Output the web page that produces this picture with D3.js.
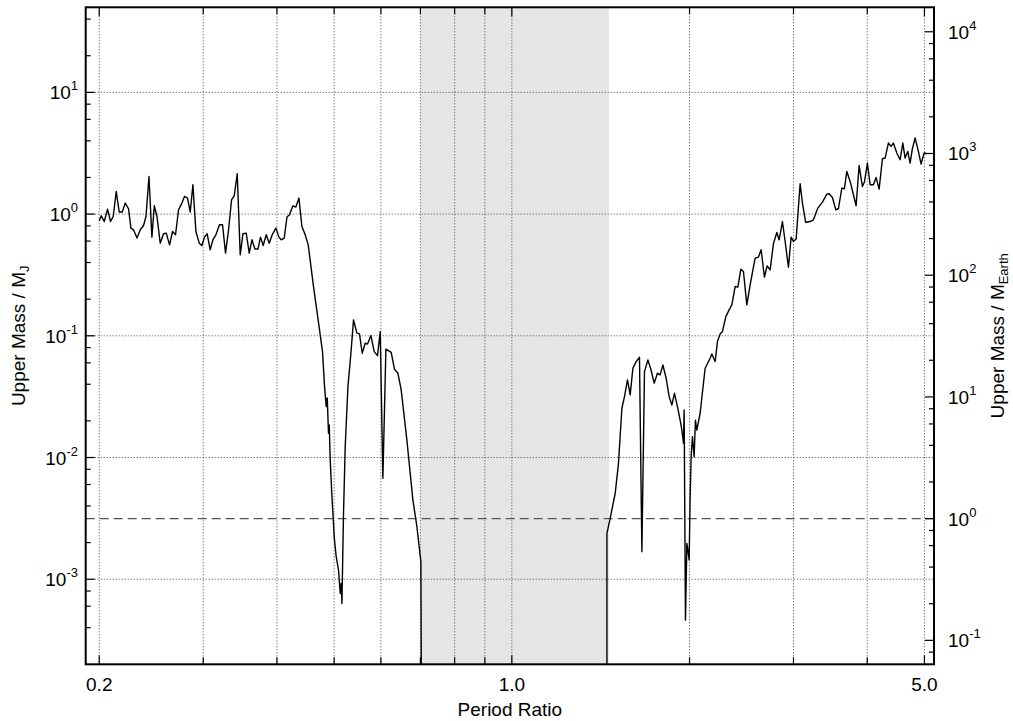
<!DOCTYPE html>
<html><head><meta charset="utf-8">
<script src="https://cdn.jsdelivr.net/npm/d3@7"></script>
<style>body{margin:0;background:#fff;} svg{display:block;font-family:"Liberation Sans",Arial,Helvetica,sans-serif;}</style>
</head><body>
<svg id="c" width="1013" height="721"></svg>
<script>
// ---- data (period ratio, upper mass in Jupiter masses) ----
const ratioInner = [0.200,0.2016,0.2039,0.2066,0.2090,0.2112,0.2137,0.2162,0.2188,0.2213,0.2242,0.2263,0.2286,0.2317,0.2347,0.2377,0.2400,0.2428,0.2456,0.2479,0.2505,0.2537,0.2570,0.2597,0.2631,0.2662,0.2693,0.2725,0.2761,0.2789,0.2822,0.2852,0.2882,0.2916,0.2954,0.2985,0.3015,0.3047,0.3083,0.3116,0.3152,0.3197,0.3235,0.3273,0.3312,0.3351,0.3386,0.3426,0.3466,0.3503,0.3548,0.3590,0.3628,0.3671,0.3714,0.3752,0.3791,0.3836,0.3881,0.3927,0.3984,0.4031,0.4067,0.4115,0.4159,0.4201,0.4257,0.4307,0.4358,0.4409,0.4466,0.4519,0.4613,0.4723,0.4778,0.4816,0.4848,0.4867,0.4891,0.4905,0.4924,0.4957,0.4976,0.5001,0.5040,0.5086,0.5120,0.5140,0.5154,0.5186,0.5220,0.5276,0.5338,0.5392,0.5464,0.5520,0.5578,0.5644,0.5695,0.5771,0.5845,0.5921,0.5984,0.6047,0.6118,0.6246,0.6327,0.6411,0.6494,0.6640,0.6798,0.6905,0.7013,0.7041];
const massInner = [0.881,0.968,0.869,1.099,0.869,0.956,1.534,1.039,1.039,1.231,1.106,0.767,0.743,0.635,0.743,0.806,0.956,2.038,0.647,1.170,0.956,0.577,0.689,0.698,0.559,0.719,0.676,1.085,1.231,1.395,1.354,1.039,1.742,0.719,0.577,0.552,0.647,0.689,0.509,0.615,0.676,0.817,0.817,0.478,0.743,1.311,1.414,2.145,0.463,0.689,0.698,0.478,0.615,0.516,0.516,0.647,0.552,0.676,0.577,0.676,0.767,0.647,0.615,0.635,0.945,0.987,1.170,1.142,1.354,0.791,0.676,0.559,0.2539,0.1118,0.0741,0.0382,0.0262,0.0309,0.0158,0.0185,0.00954,0.00476,0.00348,0.00223,0.00153,0.00119,0.000764,0.000924,0.000632,0.00348,0.01227,0.0382,0.0719,0.1351,0.1051,0.1036,0.0719,0.0869,0.0855,0.1004,0.0741,0.0687,0.1083,0.00675,0.0776,0.0730,0.0531,0.0493,0.0359,0.01393,0.00447,0.00270,0.00139,0.00001];
const ratioOuter = [1.449,1.449,1.4675,1.4965,1.5158,1.5361,1.5517,1.570,1.5866,1.6034,1.6242,1.6452,1.6607,1.6776,1.700,1.720,1.7423,1.7648,1.7835,1.8024,1.8257,1.8472,1.8667,1.8857,1.9079,1.9281,1.941,1.9531,1.9584,1.9684,1.9792,1.9869,1.9969,2.0047,2.0125,2.0228,2.0362,2.0465,2.0578,2.0844,2.1254,2.1674,2.1818,2.2100,2.2300,2.2536,2.2738,2.3042,2.334,2.3588,2.3894,2.4146,2.443,2.468,2.501,2.5334,2.583,2.6166,2.6442,2.6786,2.707,2.7388,2.7742,2.8112,2.8366,2.8734,2.9038,2.9414,2.9726,2.9994,3.0312,3.0788,3.1066,3.1456,3.2012,3.2428,3.2988,3.3586,3.4168,3.4476,3.4922,3.5388,3.5748,3.6226,3.6594,3.694,3.7418,3.7902,3.8302,3.8752,3.9254,3.9562,4.0028,4.0452,4.0976,4.141,4.1896,4.244,4.2888,4.3444,4.3904,4.430,4.4892,4.5474,4.5954,4.6368,4.6858,4.728,4.7706,4.821,4.8834,4.9352,4.9932,5.0462];
const massOuter = [0.00001,0.00238,0.00316,0.00508,0.00896,0.0254,0.0316,0.0434,0.0327,0.0541,0.0614,0.0667,0.00168,0.0508,0.0633,0.0531,0.0408,0.0493,0.0477,0.0576,0.0448,0.0316,0.0270,0.0337,0.0262,0.0203,0.0168,0.0131,0.0246,0.000461,0.00197,0.00174,0.00144,0.00476,0.01015,0.01483,0.01015,0.0203,0.0168,0.0231,0.0541,0.0654,0.0710,0.0614,0.0896,0.1036,0.1083,0.1438,0.1633,0.1795,0.2539,0.251,0.3529,0.3373,0.1795,0.2622,0.4346,0.4430,0.509,0.3033,0.3757,0.3483,0.570,0.706,0.615,0.869,0.595,0.3665,0.647,0.595,0.623,1.775,1.231,0.856,0.869,0.898,1.120,1.255,1.460,1.468,1.369,1.085,1.106,1.636,1.615,2.240,1.854,1.441,1.170,2.510,1.687,1.833,2.627,1.742,1.742,2.000,1.605,2.850,2.888,3.835,3.596,3.835,3.174,2.796,3.835,2.888,3.272,2.627,3.443,4.217,3.272,2.577,3.174,3.132];

const excludedBand = [0.70, 1.46];          // shaded period-ratio interval
const earthPerJupiter = 317.83;              // M_Earth per M_J
const earthMassInJ = 1 / earthPerJupiter;    // dashed reference line (1 M_Earth)

const xTickValues = [0.2,0.3,0.4,0.5,0.6,0.7,0.8,0.9,1,2,3,4,5];
const xLabelValues = [0.2, 1, 5];
const xLabelText = ["0.2", "1.0", "5.0"];
const yLeftMajor = [1e-3, 1e-2, 1e-1, 1, 10];
const yLeftExp = ["-3", "-2", "-1", "0", "1"];
const yRightMajor = [0.1, 1, 10, 100, 1000, 10000];
const yRightExp = ["-1", "0", "1", "2", "3", "4"];
const minorMultiples = [2, 4, 6, 8];

// ---- layout ----
const L = 85.7, R = 934, T = 7.3, B = 664.3;
const svg = d3.select("#c");
const x = d3.scaleLog().domain([0.1897, 5.19]).range([L, R]);
const y = d3.scaleLog().domain([2e-4, 50]).range([B, T]);
const y2 = d3.scaleLog().domain([2e-4 * earthPerJupiter, 50 * earthPerJupiter]).range([B, T]);

svg.append("defs").append("clipPath").attr("id", "clip")
  .append("rect").attr("x", L).attr("y", T).attr("width", R - L).attr("height", B - T);

const plot = svg.append("g").attr("clip-path", "url(#clip)");

// shaded band
plot.append("rect")
  .attr("x", x(excludedBand[0])).attr("y", T)
  .attr("width", x(excludedBand[1]) - x(excludedBand[0])).attr("height", B - T)
  .attr("fill", "#e5e5e5");

// grid
plot.selectAll(".gx").data(xTickValues).enter().append("line")
  .attr("x1", d => x(d)).attr("x2", d => x(d)).attr("y1", T).attr("y2", B)
  .attr("stroke", "#444").attr("stroke-width", 1).attr("stroke-dasharray", "1,2");
plot.selectAll(".gy").data(yLeftMajor).enter().append("line")
  .attr("x1", L).attr("x2", R).attr("y1", d => y(d)).attr("y2", d => y(d))
  .attr("stroke", "#444").attr("stroke-width", 1).attr("stroke-dasharray", "1,2");

// 1 Earth mass line
plot.append("line").attr("x1", L).attr("x2", R)
  .attr("y1", y(earthMassInJ)).attr("y2", y(earthMassInJ))
  .attr("stroke", "#555").attr("stroke-width", 1.1).attr("stroke-dasharray", "9,5");

// curves
const line = d3.line().x(d => x(d[0])).y(d => y(d[1]));
[[ratioInner, massInner], [ratioOuter, massOuter]].forEach(([rs, ms]) => {
  plot.append("path").datum(rs.map((r, i) => [r, ms[i]]))
    .attr("d", line).attr("fill", "none").attr("stroke", "#000")
    .attr("stroke-width", 1.4).attr("stroke-linejoin", "round");
});

// ticks
const ticks = svg.append("g").attr("stroke", "#000").attr("stroke-width", 1.2);
xTickValues.forEach(v => {
  const len = xLabelValues.includes(v) ? 9 : 7;
  ticks.append("line").attr("x1", x(v)).attr("x2", x(v)).attr("y1", B).attr("y2", B - len);
  ticks.append("line").attr("x1", x(v)).attr("x2", x(v)).attr("y1", T).attr("y2", T + len);
});
function minorsFor(scale) {
  const [a, b] = scale.domain();
  const out = [];
  for (let e = Math.floor(Math.log10(a)); e <= Math.ceil(Math.log10(b)); e++)
    minorMultiples.forEach(m => { const v = m * Math.pow(10, e); if (v > a && v < b) out.push(v); });
  return out;
}
yLeftMajor.forEach(v => ticks.append("line").attr("x1", L).attr("x2", L + 9).attr("y1", y(v)).attr("y2", y(v)));
minorsFor(y).forEach(v => ticks.append("line").attr("x1", L).attr("x2", L + 5).attr("y1", y(v)).attr("y2", y(v)));
yRightMajor.forEach(v => ticks.append("line").attr("x1", R).attr("x2", R - 9).attr("y1", y2(v)).attr("y2", y2(v)));
minorsFor(y2).forEach(v => ticks.append("line").attr("x1", R).attr("x2", R - 5).attr("y1", y2(v)).attr("y2", y2(v)));

// frame
svg.append("rect").attr("x", L).attr("y", T).attr("width", R - L).attr("height", B - T)
  .attr("fill", "none").attr("stroke", "#000").attr("stroke-width", 2);

// labels
const FS = 19, SS = 13;
xLabelValues.forEach((v, i) => {
  svg.append("text").attr("x", x(v)).attr("y", B + 27).attr("text-anchor", "middle")
    .attr("font-size", FS).text(xLabelText[i]);
});
function powLabel(px, py, exp, anchor) {
  const t = svg.append("text").attr("x", px).attr("y", py).attr("text-anchor", anchor).attr("font-size", FS);
  t.append("tspan").text("10");
  t.append("tspan").attr("font-size", SS).attr("dy", -9).text(exp);
}
yLeftMajor.forEach((v, i) => powLabel(78, y(v) + 7, yLeftExp[i], "end"));
yRightMajor.forEach((v, i) => powLabel(948, y2(v) + 7, yRightExp[i], "start"));

svg.append("text").attr("x", (L + R) / 2).attr("y", 716).attr("text-anchor", "middle")
  .attr("font-size", FS).text("Period Ratio");

const yl = svg.append("text").attr("transform", `translate(25,${(T + B) / 2}) rotate(-90)`)
  .attr("text-anchor", "middle").attr("font-size", FS);
yl.append("tspan").text("Upper Mass / M");
yl.append("tspan").attr("font-size", SS).attr("dy", 4).text("J");

const yr = svg.append("text").attr("transform", `translate(1004,${(T + B) / 2}) rotate(-90)`)
  .attr("text-anchor", "middle").attr("font-size", FS);
yr.append("tspan").text("Upper Mass / M");
yr.append("tspan").attr("font-size", SS).attr("dy", 4).text("Earth");
</script>
</body></html>
